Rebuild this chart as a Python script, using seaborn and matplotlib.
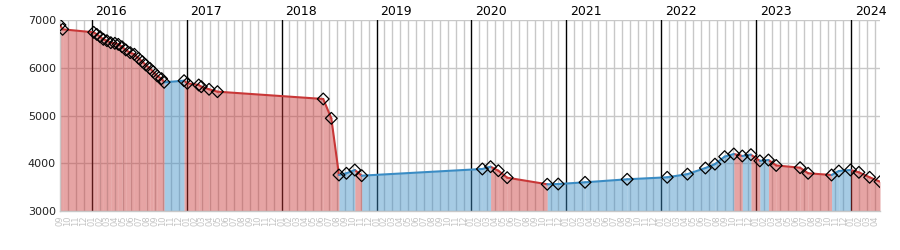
import matplotlib
matplotlib.use("Agg")
import matplotlib.pyplot as plt
import matplotlib.transforms as mtransforms
import seaborn as sns
import pandas as pd
import numpy as np

# ---- data ----
obs_dates = [
    "2015-09-01", "2015-09-11", "2016-01-09", "2016-01-21", "2016-02-03", "2016-02-15",
    "2016-02-28", "2016-03-14", "2016-03-30", "2016-04-12", "2016-04-26", "2016-05-11",
    "2016-05-28", "2016-06-13", "2016-06-29", "2016-07-14", "2016-07-27", "2016-08-12",
    "2016-08-25", "2016-09-10", "2016-09-26", "2016-10-06", "2016-12-22", "2017-01-04",
    "2017-02-16", "2017-02-25", "2017-03-27", "2017-04-28", "2018-06-09", "2018-07-10",
    "2018-08-09", "2018-09-07", "2018-10-09", "2018-11-05", "2020-02-12", "2020-03-14",
    "2020-04-13", "2020-05-17", "2020-10-19", "2020-11-30", "2021-03-12", "2021-08-22",
    "2022-01-24", "2022-04-10", "2022-06-18", "2022-07-25", "2022-09-01", "2022-10-06",
    "2022-11-08", "2022-12-11", "2023-01-15", "2023-02-16", "2023-03-17", "2023-06-17",
    "2023-07-18", "2023-10-17", "2023-11-14", "2023-12-29", "2024-01-31", "2024-03-11",
    "2024-04-20",
]
obs_values = [
    6895, 6805, 6742, 6700, 6650, 6595,
    6567, 6525, 6512, 6490, 6440, 6372,
    6316, 6282, 6198, 6127, 6058, 5988,
    5918, 5828, 5772, 5695, 5729, 5674,
    5639, 5603, 5549, 5499, 5346, 4941,
    3754, 3790, 3859, 3740, 3880, 3928,
    3844, 3698, 3560, 3565, 3601, 3664,
    3706, 3772, 3900, 3981, 4138, 4194,
    4152, 4180, 4050, 4068, 3954, 3907,
    3790, 3754, 3838, 3859, 3810, 3706,
    3614,
]
year_labels = ["2016", "2017", "2018", "2019", "2020", "2021", "2022", "2023", "2024"]
y_ticks = [3000, 4000, 5000, 6000, 7000]
start_year, start_month = 2015, 9
n_month_ticks = 104

RED = "#c83737"
BLUE = "#3a8cc4"


def month_pos(ts):
    ts = pd.Timestamp(ts)
    return (ts.year - start_year) * 12 + (ts.month - start_month) + (ts.day - 1) / ts.days_in_month


df = pd.DataFrame({"date": obs_dates, "value": obs_values})
df["m"] = [month_pos(d) for d in df["date"]]

# segments between consecutive observations
rows = []
for i in range(len(df) - 1):
    a, b = df.iloc[i], df.iloc[i + 1]
    direction = "up" if b["value"] >= a["value"] else "down"
    for r in (a, b):
        rows.append({"seg": i, "dir": direction, "m": r["m"], "value": r["value"]})
seg_df = pd.DataFrame(rows)

sns.set_style("white")
plt.rcParams["font.family"] = ["DejaVu Sans"]

fig = plt.figure(figsize=(9, 2.5), dpi=100)
ax = fig.add_axes([60 / 900, 39 / 250, 820 / 900, 191 / 250])

ax.set_xlim(0, df["m"].iloc[-1])
ax.set_ylim(3000, 7000)

# grid
for k in range(n_month_ticks):
    month = (start_month - 1 + k) % 12 + 1
    if month == 1:
        ax.axvline(k, color="black", lw=1, zorder=1)
    else:
        ax.axvline(k, color="#c8c8c8", lw=1, zorder=0.5)
for yv in y_ticks:
    ax.axhline(yv, color="#c8c8c8", lw=1, zorder=0.5)

# fills
palette = {"up": BLUE, "down": RED}
for seg, g in seg_df.groupby("seg"):
    ax.fill_between(g["m"].values, g["value"].values, 3000,
                    color=palette[g["dir"].iloc[0]], alpha=0.45, lw=0, zorder=2)

sns.lineplot(data=seg_df, x="m", y="value", hue="dir", units="seg", estimator=None,
             palette=palette, lw=1.5, legend=False, ax=ax, zorder=3)
sns.scatterplot(data=df, x="m", y="value", marker="D", s=36, facecolor="none",
                edgecolor="black", linewidth=0.9, legend=False, ax=ax, zorder=4)

# ticks
ax.set_yticks(y_ticks)
ax.set_yticklabels([str(v) for v in y_ticks], fontsize=8, color="#222222")
ax.set_xticks(range(n_month_ticks))
ax.set_xticklabels([f"{(start_month - 1 + k) % 12 + 1:02d}" for k in range(n_month_ticks)],
                   rotation=90, fontsize=6, color="#c4c4c4")
ax.tick_params(axis="both", length=0, pad=3)
ax.set_xlabel("")
ax.set_ylabel("")

for s in ("top", "right"):
    ax.spines[s].set_visible(False)
for s in ("left", "bottom"):
    ax.spines[s].set_color("#c8c8c8")
    ax.spines[s].set_linewidth(1)

trans = mtransforms.blended_transform_factory(ax.transData, ax.transAxes)
for i, lab in enumerate(year_labels):
    xm = (int(lab) - start_year) * 12 + (1 - start_month)
    ax.text(xm + 2.5, 1.045, lab, transform=trans, ha="center", va="center",
            fontsize=9, color="black", clip_on=False)

fig.savefig("out.png", dpi=100)
